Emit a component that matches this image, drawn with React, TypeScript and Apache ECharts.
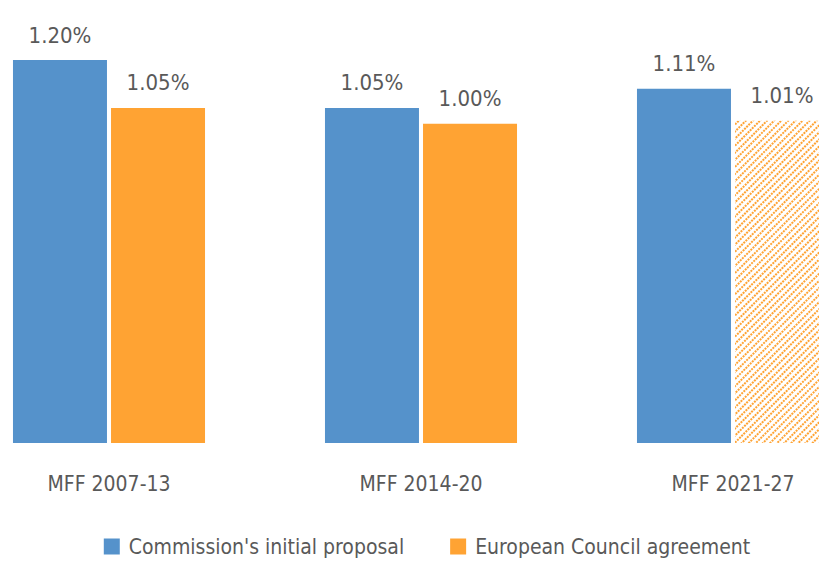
import React, { useEffect, useRef } from "react";
import * as echarts from "echarts";

const categories = ["MFF 2007-13", "MFF 2014-20", "MFF 2021-27"];
const commissionProposal = [1.2, 1.05, 1.11];
const councilAgreement = [1.05, 1.0, 1.01];
const seriesNames = ["Commission's initial proposal", "European Council agreement"];

const FONT = "'DejaVu Sans Condensed', 'Liberation Sans Narrow', sans-serif";
const BLUE = "#5592CB";
const ORANGE = "#FFA333";
const TEXT = "#595959";

export default function App() {
  const ref = useRef<HTMLDivElement>(null);
  useEffect(() => {
    if (!ref.current) return;
    const chart = echarts.init(ref.current, null, { renderer: "svg" });
    const label = {
      show: true,
      position: "top",
      distance: 14,
      color: TEXT,
      fontFamily: FONT,
      fontSize: 22,
      formatter: (p: any) => p.value.toFixed(2) + "%",
    };
    chart.setOption({
      animation: false,
      backgroundColor: "#ffffff",
      grid: { left: 0, right: 12, top: 60, bottom: 120 },
      legend: {
        bottom: 1,
        left: "center",
        icon: "rect",
        itemWidth: 16,
        itemHeight: 16,
        itemGap: 46,
        textStyle: { color: TEXT, fontFamily: FONT, fontSize: 21, padding: [0, 0, 0, 4] },
        data: seriesNames,
      },
      xAxis: {
        type: "category",
        data: categories,
        axisLine: { show: false },
        axisTick: { show: false },
        axisLabel: { color: TEXT, fontFamily: FONT, fontSize: 21, margin: 30 },
      },
      yAxis: {
        type: "value",
        min: 0,
        max: 1.2,
        show: false,
        splitLine: { show: false },
      },
      series: [
        {
          name: seriesNames[0],
          type: "bar",
          barWidth: 94,
          barGap: "4.3%",
          itemStyle: { color: BLUE },
          label,
          data: commissionProposal,
        },
        {
          name: seriesNames[1],
          type: "bar",
          barWidth: 94,
          itemStyle: { color: ORANGE },
          label,
          data: councilAgreement.map((v, i) =>
            i === 2
              ? {
                  value: v,
                  itemStyle: {
                    color: "#ffffff",
                    decal: {
                      symbol: "rect",
                      symbolSize: 1,
                      color: ORANGE,
                      dashArrayX: [2, 1],
                      dashArrayY: [2, 3],
                      rotation: -Math.PI / 4,
                    },
                  },
                }
              : v
          ),
        },
      ],
    });
    return () => chart.dispose();
  }, []);
  return (
    <div style={{ position: "absolute", left: 0, top: 0, width: 819, height: 563, overflow: "hidden", background: "#fff" }}>
      <div ref={ref} style={{ position: "absolute", left: -47, top: 0, width: 948, height: 563 }} />
    </div>
  );
}
